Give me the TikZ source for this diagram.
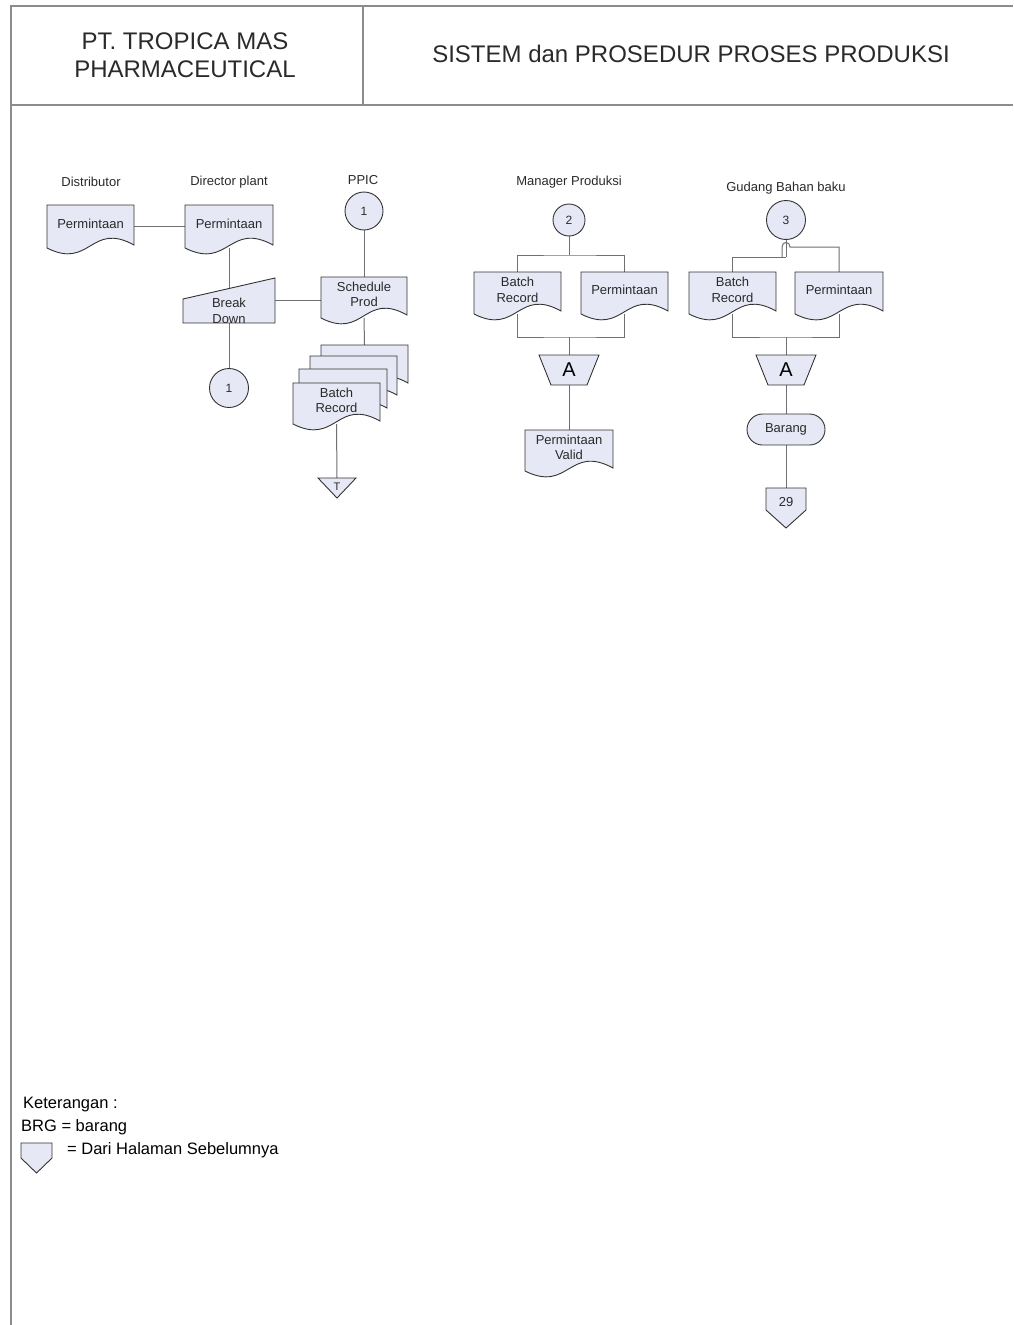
\documentclass[tikz,border=0pt]{standalone}
\usepackage{fontspec}
\setmainfont{Liberation Sans}
\usetikzlibrary{calc,backgrounds}

\definecolor{shfill}{HTML}{E6E9F5}
\definecolor{shline}{HTML}{333333}
\definecolor{conline}{HTML}{707070}
\definecolor{frameline}{HTML}{8C8C8C}
\definecolor{txtcol}{HTML}{2A2A2A}

\tikzset{
  shp/.style={fill=shfill, draw=shline, line width=0.9pt},
  conn/.style={draw=conline, line width=1pt},
  frm/.style={draw=frameline, line width=1.3pt},
  txt/.style={font=\fontsize{13}{15.5}\selectfont, text=txtcol, align=center, inner sep=0pt},
  lbl/.style={font=\fontsize{13}{15}\selectfont, text=txtcol, inner sep=0pt},
  box/.style={rectangle, draw=none, inner sep=0pt, outer sep=0pt},
  legendtxt/.style={font=\fontsize{16.5}{18}\selectfont, text=black, anchor=west, inner sep=0pt},
  headtxt/.style={font=\fontsize{24}{28}\selectfont, text=txtcol, align=center, inner sep=0pt},
}

% document symbol: name, x0, y0, x1, yb, text
\newcommand\docnode[6]{%
  \path[shp] (#2,#3) -- (#4,#3) -- (#4,#5-3)
     .. controls ({(#2+#4)/2},#5-27) and ({(#2+#4)/2},#5+22) .. (#2,#5) -- cycle;
  \node[box, minimum width={#4-#2}, minimum height={#5-#3}] (#1) at ({(#2+#4)/2},{(#3+#5)/2}) {};
  \node[txt] at ([yshift=3pt]#1.center) {#6};
}

\begin{document}
\begin{tikzpicture}[x=1pt,y=-1pt]
\useasboundingbox (0,0) rectangle (1013,1325);

% frame
\draw[frm] (11,1325) -- (11,6) -- (1013,6);
\draw[frm] (11,105) -- (1013,105);
\draw[frm] (363,6) -- (363,105);
\node[headtxt] (hcomp) at (185,55) {PT. TROPICA MAS\\PHARMACEUTICAL};
\node[headtxt] (htitle) at (691,54) {SISTEM dan PROSEDUR PROSES PRODUKSI};

% lane labels
\node[lbl] (ldist) at (91,182) {Distributor};
\node[lbl] (ldir) at (229,182) {Director plant};
\node[lbl] (lppic) at (363,180) {PPIC};
\node[lbl] (lman) at (569,182) {Manager Produksi};
\node[lbl] (lgud) at (786,188) {Gudang Bahan baku};

% ---- left part
\docnode{dist}{47}{205}{134}{248}{Permintaan}
\docnode{dir}{185}{205}{273}{248}{Permintaan}

\path[shp] (183,299) -- (275,278) -- (275,323) -- (183,323) -- cycle;
\node[box, minimum width=92, minimum height=45] (brk) at (229,300.5) {};
\coordinate (brktop) at (229,288.5);
\node[txt] (brktxt) at (229,311) {Break\\Down};

\node[shp, circle, minimum size=39, inner sep=0pt, font=\fontsize{12}{12}\selectfont, text=txtcol] (c1b) at (229,388) {1};
\node[shp, circle, minimum size=38, inner sep=0pt, font=\fontsize{12}{12}\selectfont, text=txtcol] (p1) at (364,211) {1};

\docnode{sched}{321}{277}{407}{318}{Schedule\\Prod}

\docnode{bst1}{321}{345}{408}{386}{}
\docnode{bst2}{310}{356}{397}{398}{}
\docnode{bst3}{299}{369}{387}{411}{}
\docnode{bst4}{293}{383}{380}{424}{Batch\\Record}

\path[shp] (318,478) -- (356,478) -- (337,498) -- cycle;
\node[box, minimum width=38, minimum height=20] (tri) at (337,488) {};
\node[font=\fontsize{11}{11}\selectfont, text=txtcol, inner sep=0pt] (tritxt) at (337,487) {T};

% ---- middle part
\node[shp, circle, minimum size=32, inner sep=0pt, font=\fontsize{12}{12}\selectfont, text=txtcol] (m2) at (569,220) {2};
\docnode{mbr}{474}{272}{561}{314}{Batch\\Record}
\docnode{mpe}{581}{272}{668}{314}{Permintaan}
\path[shp] (539,355) -- (599,355) -- (587,385) -- (551,385) -- cycle;
\node[box, minimum width=60, minimum height=30, font=\fontsize{20}{20}\selectfont, text=black] (mA) at (569,370) {A};
\docnode{mval}{525}{430}{613}{471}{Permintaan\\Valid}
\coordinate (mj1) at (569,255);
\coordinate (mj2) at (569,337);

% ---- right part
\node[shp, circle, minimum size=39, inner sep=0pt, font=\fontsize{12}{12}\selectfont, text=txtcol] (g3) at (786,220) {3};
\docnode{gbr}{689}{272}{776}{314}{Batch\\Record}
\docnode{gpe}{795}{272}{883}{314}{Permintaan}
\path[shp] (756,355) -- (816,355) -- (804,385) -- (768,385) -- cycle;
\node[box, minimum width=60, minimum height=30, font=\fontsize{20}{20}\selectfont, text=black] (gA) at (786,370) {A};
\node[shp, rounded corners=15.5pt, minimum width=78, minimum height=31, txt] (bar) at (786,429.5) {Barang};
\path[shp] (766,488) -- (806,488) -- (806,510) -- (786,528) -- (766,510) -- cycle;
\node[box, minimum width=40, minimum height=40] (op) at (786,508) {};
\node[txt] (optxt) at (786,502) {29};
\coordinate (gjA) at (786,257);
\coordinate (gjB) at (790,247);
\coordinate (gh1) at (782,247);
\coordinate (gh2) at (782,257);
\coordinate (gj2) at (786,337);

% ---- legend
\node[legendtxt] (k1) at (23,1105) {Keterangan :};
\node[legendtxt] (k2) at (21,1127) {BRG = barang};
\path[shp] (21,1143) -- (52,1143) -- (52,1158) -- (36.5,1173) -- (21,1158) -- cycle;
\node[box, minimum width=31, minimum height=30] (lgsym) at (36.5,1158) {};
\node[legendtxt] (k3) at (67,1150) {= Dari Halaman Sebelumnya};

% ---- connectors (behind shapes)
\begin{scope}[on background layer]
\fill[white] (0,0) rectangle (1013,1325);
\draw[conn] (dist.east) -- (dir.west);
\draw[conn] (dir.south) -- (brktop);
\draw[conn] (brk.east) -- (brk.east -| sched.west);
\draw[conn] (brk.south) -- (c1b);
\draw[conn] (p1) -- (sched.north);
\draw[conn] (sched.south) -- (bst1.north);
\draw[conn] (bst4.south) -- (tri.north);

\draw[conn] (m2) -- (mj1);
\draw[conn] (mbr.north) |- (mj1) -| (mpe.north);
\draw[conn] (mbr.south) |- (mj2) -| (mpe.south);
\draw[conn] (mj2) -- (mA.north);
\draw[conn] (mA.south) -- (mval.north);

\draw[conn] (g3) -- (gjA);
\draw[conn] (gbr.north) |- (gjA);
\draw[conn] (gpe.north) |- (gjB) .. controls ([yshift=6pt]gjB) and ([yshift=6pt]gh1) .. (gh1) -- (gh2);
\draw[conn] (gbr.south) |- (gj2) -| (gpe.south);
\draw[conn] (gj2) -- (gA.north);
\draw[conn] (gA.south) -- (bar.north);
\draw[conn] (bar.south) -- (op.north);
\end{scope}
\end{tikzpicture}
\end{document}
